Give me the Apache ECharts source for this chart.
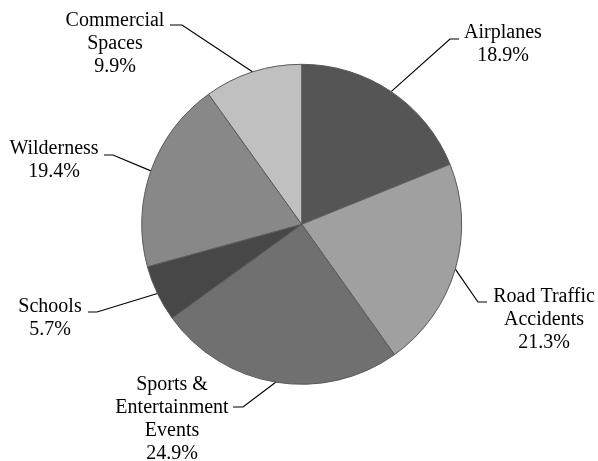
<!DOCTYPE html>
<html>
<head>
<meta charset="utf-8">
<script src="https://cdn.jsdelivr.net/npm/echarts@6/dist/echarts.min.js"></script>
<style>
html,body{margin:0;padding:0;background:#fff;}
#chart{width:598px;height:461px;}
</style>
</head>
<body>
<div id="chart"></div>
<script>
// Data
var categories = ['Airplanes', 'Road Traffic\nAccidents', 'Sports &\nEntertainment\nEvents', 'Schools', 'Wilderness', 'Commercial\nSpaces'];
var values = [18.9, 21.3, 24.9, 5.7, 19.4, 9.9];

// Styles / layout
var colors = ['#555555', '#a0a0a0', '#707070', '#474747', '#888888', '#c0c0c0'];
var labelCenters = [[503, 44], [544, 320], [172, 419], [50, 318], [54, 160], [115, 44]];
var labelElbows = [[450, 39], [478, 302], [243, 407], [97, 312], [113, 155], [182, 25]];
var labelEnds = [[459, 39], [487, 302], [233, 407], [88, 312], [104, 155], [170, 25]];
var FONT = 'Liberation Serif';

var chart = echarts.init(document.getElementById('chart'));
var data = categories.map(function (c, i) {
  return { name: c, value: values[i], itemStyle: { color: colors[i] } };
});
chart.setOption({
  animation: false,
  backgroundColor: '#ffffff',
  textStyle: { fontFamily: FONT },
  series: [{
    type: 'pie',
    center: [301.7, 224.3],
    radius: 160,
    startAngle: 90,
    clockwise: true,
    avoidLabelOverlap: false,
    data: data,
    itemStyle: { borderColor: '#5a5a5a', borderWidth: 1 },
    emphasis: { disabled: true },
    label: {
      show: true,
      position: 'outside',
      formatter: function (p) {
        var lines = p.name.split('\n');
        lines.push(p.value + '%');
        return lines.map(function (s) { return '{t|' + s + '}'; }).join('\n');
      },
      fontFamily: FONT,
      fontSize: 20,
      lineHeight: 23,
      color: '#000000',
      rich: {
        t: { fontFamily: FONT, fontSize: 20, lineHeight: 23, color: '#000000' }
      }
    },
    labelLine: {
      show: true,
      length: 20,
      length2: 10,
      lineStyle: { color: '#000000', width: 1.2 }
    },
    labelLayout: function (params) {
      var i = params.dataIndex;
      var p0 = params.labelLinePoints ? params.labelLinePoints[0] : labelElbows[i];
      return {
        x: labelCenters[i][0],
        y: labelCenters[i][1],
        align: 'center',
        verticalAlign: 'middle',
        labelLinePoints: [p0, labelElbows[i], labelEnds[i]]
      };
    }
  }]
});
</script>
</body>
</html>
